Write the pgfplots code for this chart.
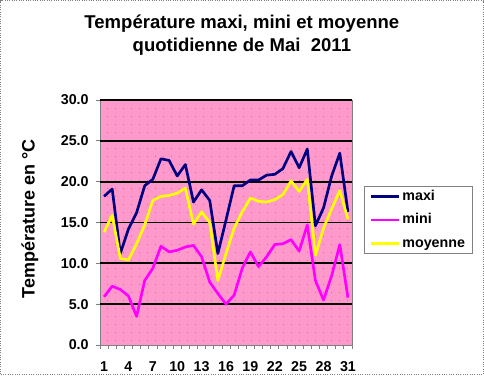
\documentclass[border=0pt]{standalone}
\usepackage{fontspec}
\setmainfont{Liberation Sans}
\usepackage{pgfplots}
\pgfplotsset{compat=1.18}
\usepackage{pgfplotstable}
\usetikzlibrary{patterns.meta}
\definecolor{plotpink}{HTML}{FF99CC}
\definecolor{dotpink}{HTML}{E0609A}
\definecolor{cmaxi}{HTML}{000080}
\definecolor{cmini}{HTML}{FF00FF}
\definecolor{cmoy}{HTML}{FFFF00}
\tikzdeclarepattern{
  name=sparsedots,
  type=uncolored,
  bottom left={(0pt,0pt)},
  top right={(6pt,6pt)},
  tile size={(6pt,6pt)},
  code={\pgfpathcircle{\pgfqpoint{3pt}{3pt}}{0.45pt}\pgfusepath{fill}}
}
\pgfplotstableread{
day maxi mini moy
1  18.2 5.9  13.8
2  19.1 7.2  15.9
3  11.2 6.8  10.6
4  14.2 6.0  10.4
5  16.2 3.5  12.4
6  19.5 7.9  14.7
7  20.3 9.4  17.7
8  22.8 12.1 18.2
9  22.6 11.4 18.3
10 20.7 11.6 18.6
11 22.1 12.0 19.2
12 17.5 12.2 14.8
13 19.0 10.8 16.3
14 17.7 7.7  15.0
15 11.2 6.3  7.9
16 15.3 5.0  11.2
17 19.5 6.1  14.3
18 19.5 9.4  16.3
19 20.2 11.4 18.0
20 20.2 9.6  17.6
21 20.8 10.8 17.5
22 20.9 12.3 17.8
23 21.6 12.4 18.4
24 23.7 12.9 20.1
25 21.7 11.5 18.8
26 24.0 14.7 20.3
27 14.6 7.9  11.0
28 16.8 5.5  14.3
29 20.7 8.5  16.7
30 23.5 12.3 18.9
31 16.3 5.8  15.4
}\datatable
\begin{document}
\begin{tikzpicture}
\useasboundingbox (0,0) rectangle (363pt,281.25pt);
\fill[white] (0,0) rectangle (363pt,281.25pt);
\draw[gray, densely dotted, line width=0.75pt] (0.4pt,0.4pt) rectangle (362.6pt,280.85pt);
\begin{axis}[
  at={(75pt,22.5pt)}, anchor=south west,
  scale only axis, width=189pt, height=183.75pt,
  xmin=0.5, xmax=31.5, ymin=0, ymax=30,
  axis background/.style={fill=plotpink, postaction={pattern={sparsedots}, pattern color=dotpink}},
  axis line style={draw=gray, line width=0.75pt},
  tick align=outside, tick pos=left,
  major tick length=3pt,
  tick style={draw=gray, line width=0.6pt},
  xtick={0.5,1.5,...,31.5},
  xticklabels={,,,,,,,,,,,,,,,,,,,,,,,,,,,,,,,},
  extra x ticks={1,4,...,31},
  extra x tick labels={1,4,7,10,13,16,19,22,25,28,31},
  extra x tick style={major tick length=0pt, xmajorgrids=false},
  ytick={0,5,...,30},
  extra y ticks={5,10,...,30},
  extra y tick labels={,,,,,},
  extra y tick style={ymajorgrids=true, major tick length=0pt},
  major grid style={black, line width=1.4pt},
  /pgf/number format/assume math mode=true,
  yticklabel style={/pgf/number format/fixed, /pgf/number format/fixed zerofill, /pgf/number format/precision=1, xshift=-2pt},
  ticklabel style={font=\fontsize{10.7}{12}\selectfont\bfseries},
  xticklabel style={yshift=-9pt},
  title={Température maxi, mini et moyenne\\quotidienne de Mai\ \ 2011},
  title style={font=\fontsize{13.9}{17}\selectfont\bfseries, align=center, at={(axis description cs:0.563,1.233)}, anchor=center},
  ylabel={Température en °C},
  ylabel style={font=\fontsize{13.5}{16}\selectfont\bfseries, at={(axis description cs:-0.278,0.515)}, anchor=center},
  legend style={at={(1.0476,0.649)}, anchor=north west, draw=gray, line width=0.6pt, fill=white,
    inner xsep=4pt, inner ysep=1pt, row sep=4pt, column sep=0pt,
    font=\fontsize{10.7}{12}\selectfont\bfseries,
    nodes={text height=8pt, text depth=2.5pt, inner xsep=1.5pt, inner ysep=1.5pt}},
  legend cell align=left,
  legend image code/.code={\draw[#1] (0pt,0pt) -- (21pt,0pt);},
  every axis plot/.append style={line width=2pt, line join=round, mark=none},
]
\addplot[cmaxi] table[x=day, y=maxi] {\datatable};
\addlegendentry{maxi}
\addplot[cmini] table[x=day, y=mini] {\datatable};
\addlegendentry{mini}
\addplot[cmoy] table[x=day, y=moy] {\datatable};
\addlegendentry{moyenne}
\end{axis}
\end{tikzpicture}
\end{document}
